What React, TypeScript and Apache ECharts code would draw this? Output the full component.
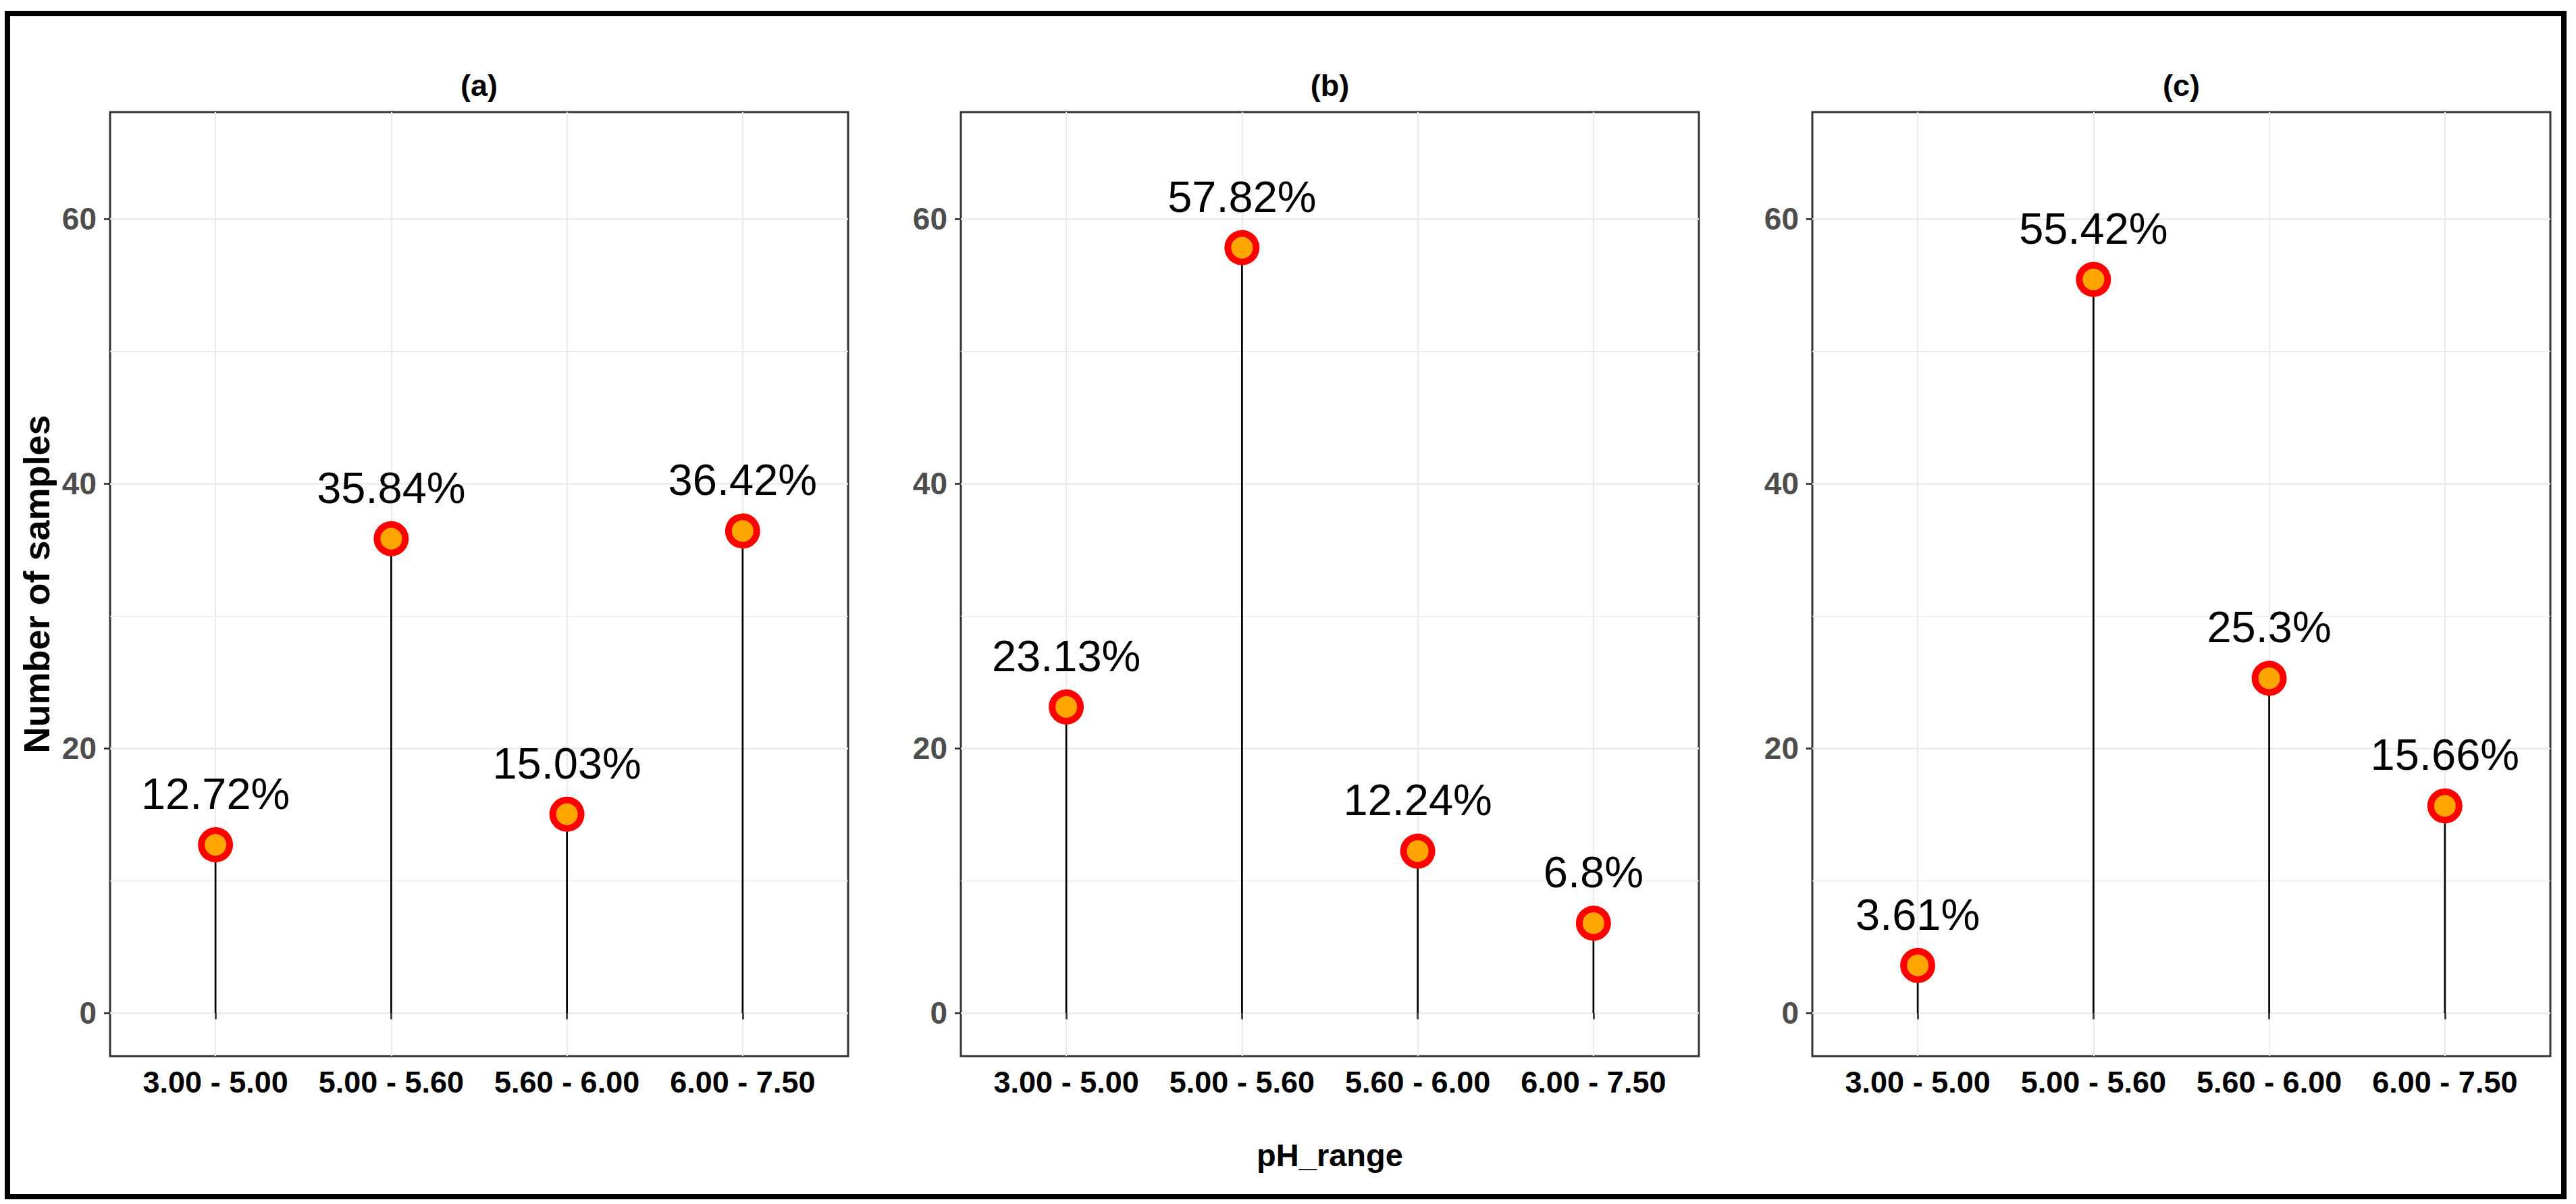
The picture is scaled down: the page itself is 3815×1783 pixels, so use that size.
import React, { useEffect, useRef } from 'react';
import * as echarts from 'echarts';

// ---- data ----
const categories = ['3.00 - 5.00', '5.00 - 5.60', '5.60 - 6.00', '6.00 - 7.50'];
const categoryPositions = [1, 2, 3, 4];
const panelTitles = ['(a)', '(b)', '(c)'];
const valuesA = [12.72, 35.84, 15.03, 36.42];
const valuesB = [23.13, 57.82, 12.24, 6.8];
const valuesC = [3.61, 55.42, 25.3, 15.66];
const labelsA = ['12.72%', '35.84%', '15.03%', '36.42%'];
const labelsB = ['23.13%', '57.82%', '12.24%', '6.8%'];
const labelsC = ['3.61%', '55.42%', '25.3%', '15.66%'];
const yMajorTicks = [0, 20, 40, 60];
const yMinorTicks = [10, 30, 50];
const Y_MIN = -3.24;
const Y_MAX = 68.06;
const X_MIN = 0.4;
const X_MAX = 4.6;
const yAxisTitle = 'Number of samples';
const xAxisTitle = 'pH_range';

const panelValues = [valuesA, valuesB, valuesC];
const panelLabels = [labelsA, labelsB, labelsC];

// ---- layout ----
const W = 3815;
const H = 1783;
const PANEL_LEFTS = [163, 1423, 2684];
const PANEL_W = 1093;
const PANEL_TOP = 166;
const PANEL_H = 1398;
const FONT = '"Liberation Sans", Arial, Helvetica, sans-serif';

export default function App() {
  const ref = useRef<HTMLDivElement>(null);

  useEffect(() => {
    if (!ref.current) return;
    const chart = echarts.init(ref.current, null, { renderer: 'svg' });

    const grids: any[] = [];
    const xAxes: any[] = [];
    const yAxes: any[] = [];
    const series: any[] = [];
    const graphics: any[] = [];

    panelValues.forEach((vals, i) => {
      grids.push({
        left: PANEL_LEFTS[i],
        top: PANEL_TOP,
        width: PANEL_W,
        height: PANEL_H,
        show: true,
        borderColor: '#333333',
        borderWidth: 3,
        backgroundColor: 'rgba(0,0,0,0)',
        z: 0,
      });
      xAxes.push({
        type: 'value',
        gridIndex: i,
        min: X_MIN,
        max: X_MAX,
        axisLine: { show: false },
        axisTick: {
          show: true,
          customValues: categoryPositions,
          length: 9,
          lineStyle: { color: '#333333', width: 2.7 },
        },
        axisLabel: {
          customValues: categoryPositions,
          formatter: (v: number) => categories[Math.round(v) - 1] ?? '',
          margin: 16,
          color: '#000000',
          fontWeight: 'bold',
          fontSize: 45,
          fontFamily: FONT,
        },
        splitLine: { show: true, lineStyle: { color: '#EBEBEB', width: 2 } },
        name: i === 1 ? xAxisTitle : '',
        nameLocation: 'middle',
        nameGap: 123,
        nameTextStyle: { color: '#000000', fontWeight: 'bold', fontSize: 47, fontFamily: FONT },
      });
      yAxes.push({
        type: 'value',
        gridIndex: i,
        min: Y_MIN,
        max: Y_MAX,
        position: 'left',
        axisLine: { show: false },
        axisTick: {
          show: true,
          customValues: yMajorTicks,
          length: 9,
          lineStyle: { color: '#333333', width: 2.7 },
        },
        axisLabel: {
          customValues: yMajorTicks,
          margin: 20,
          color: '#4D4D4D',
          fontWeight: 'bold',
          fontSize: 46,
          fontFamily: FONT,
        },
        splitLine: { show: true, lineStyle: { color: '#EBEBEB', width: 2.7 } },
        name: i === 0 ? yAxisTitle : '',
        nameLocation: 'middle',
        nameGap: 82,
        nameRotate: 90,
        nameTextStyle: { color: '#000000', fontWeight: 'bold', fontSize: 54, fontFamily: FONT },
      });
      yAxes.push({
        type: 'value',
        gridIndex: i,
        min: Y_MIN,
        max: Y_MAX,
        position: 'left',
        axisLine: { show: false },
        axisTick: { show: false, customValues: yMinorTicks },
        axisLabel: { show: false, customValues: yMinorTicks },
        splitLine: { show: true, lineStyle: { color: '#EBEBEB', width: 1.4 } },
      });

      const data = vals.map((v, k) => [categoryPositions[k], v]);
      series.push({
        type: 'custom',
        xAxisIndex: i,
        yAxisIndex: 2 * i,
        data,
        silent: true,
        z: 2,
        renderItem: (params: any, api: any) => {
          const x = api.value(0);
          const y = api.value(1);
          const p0 = api.coord([x, 0]);
          const p1 = api.coord([x, y]);
          return {
            type: 'line',
            shape: { x1: p0[0], y1: p0[1], x2: p1[0], y2: p1[1] },
            style: { stroke: '#000000', lineWidth: 2.7 },
          };
        },
      });
      series.push({
        type: 'scatter',
        xAxisIndex: i,
        yAxisIndex: 2 * i,
        data,
        symbol: 'circle',
        symbolSize: 42,
        itemStyle: { color: '#FFA500', borderColor: '#FF0000', borderWidth: 10, opacity: 1 },
        label: {
          show: true,
          position: 'top',
          distance: 17,
          formatter: (p: any) => panelLabels[i][p.dataIndex],
          fontSize: 65,
          color: '#000000',
          fontFamily: FONT,
        },
        z: 3,
      });

      graphics.push({
        type: 'text',
        x: PANEL_LEFTS[i] + PANEL_W / 2,
        y: 126,
        style: {
          text: panelTitles[i],
          fill: '#000000',
          font: `bold 45px ${FONT}`,
          textAlign: 'center',
          textVerticalAlign: 'middle',
        },
      });
    });

    graphics.push({
      type: 'rect',
      shape: { x: 11, y: 20, width: 3786, height: 1752 },
      style: { fill: 'none', stroke: '#000000', lineWidth: 8 },
      z: 100,
    });

    chart.setOption({
      animation: false,
      backgroundColor: '#FFFFFF',
      grid: grids,
      xAxis: xAxes,
      yAxis: yAxes,
      series,
      graphic: graphics,
    });

    return () => chart.dispose();
  }, []);

  return (
    <div
      ref={ref}
      style={{ position: 'absolute', left: 0, top: 0, width: W, height: H, background: '#fff' }}
    />
  );
}
